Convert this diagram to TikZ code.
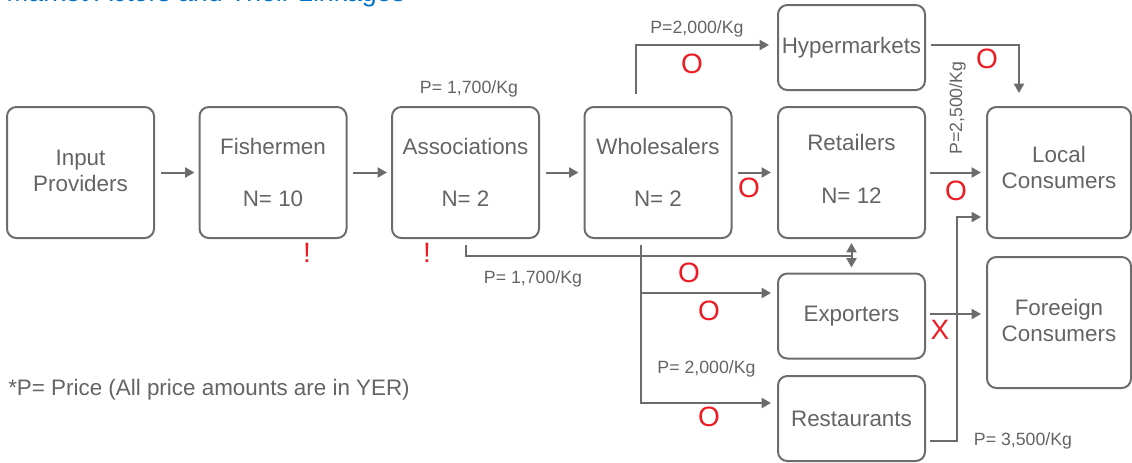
\documentclass[tikz,border=0pt]{standalone}
\usepackage{fontspec}
\setmainfont{Liberation Sans}
\usetikzlibrary{arrows.meta,calc}
\definecolor{lg}{RGB}{108,108,110}
\definecolor{tg}{RGB}{100,100,102}
\definecolor{rd}{RGB}{236,28,36}
\definecolor{bl}{RGB}{0,114,198}
\begin{document}
\begin{tikzpicture}[x=0.75pt,y=-0.75pt,
  box/.style={draw=lg,line width=1.5pt,rounded corners=7pt,minimum width=110.25pt,minimum height=98.25pt,align=center,font=\fontsize{16.8}{19.5}\selectfont,text=tg,inner sep=0pt},
  sbox/.style={box,minimum height=63.75pt},
  wbox/.style={box,minimum width=108pt},
  conn/.style={draw=lg,line width=1.5pt,-{Triangle[length=7pt,width=7.5pt]}},
  plain/.style={draw=lg,line width=1.5pt},
  lab/.style={font=\fontsize{13.3}{15}\selectfont,text=tg,inner sep=0pt},
  redmark/.style={font=\fontsize{21}{24}\selectfont,text=rd,inner sep=0pt},
]
\useasboundingbox (0,0) rectangle (1132,462);
% title (cut off at the top in the reference)
\node[anchor=base west,inner sep=0pt,text=bl,font=\fontsize{20}{24}\selectfont] (title) at (6,1.5) {Market Actors and Their Linkages};
% boxes
\node[box] (inp) at (80.5,172.5) {Input\\Providers\rule[-2pt]{0pt}{0pt}};
\node[box] (fish) at (273,172.5) {Fishermen\\[20pt]N= 10};
\node[box] (assoc) at (465.5,172.5) {Associations\\[20pt]N= 2};
\node[box] (whole) at (658,172.5) {Wholesalers\\[20pt]N= 2};
\node[sbox] (hyper) at (851.5,47.5) {Hypermarkets};
\node[box] (retail) at (851.5,172.5) {Retailers\\[20pt]N= 12\rule[-5.2pt]{0pt}{0pt}};
\node[wbox] (local) at (1059,172.5) {Local\\Consumers\rule[-7.5pt]{0pt}{0pt}};
\node[sbox] (export) at (851.5,316) {Exporters};
\node[wbox] (foreign) at (1059,322.5) {Foreeign\\Consumers\rule[-3.8pt]{0pt}{0pt}};
\node[sbox] (rest) at (851.5,418.5) {Restaurants};
% main chain
\draw[conn] ($(inp.east)+(6,0)$) -- ($(fish.west)+(-4,0)$);
\draw[conn] ($(fish.east)+(5,0)$) -- ($(assoc.west)+(-4,0)$);
\draw[conn] ($(assoc.east)+(6,0)$) -- ($(whole.west)+(-5,0)$);
\draw[conn] ($(whole.east)+(5,0)$) -- ($(retail.west)+(-6,0)$);
\draw[conn] ($(retail.east)+(4,0)$) -- ($(local.west)+(-5,0)$);
% wholesalers to hypermarkets
\draw[conn] ($(whole.north)+(-22,-12)$) |- ($(hyper.west)+(-8,-2.5)$);
% hypermarkets to local consumers
\draw[conn] ($(hyper.east)+(5,-2.5)$) -| ($(local.north)+(-40,-13)$);
% exporters to foreign consumers
\draw[conn] ($(export.east)+(4,-2)$) -- ($(export.east -| foreign.west)+(-5,-2)$);
% restaurants to local consumers
\coordinate (rc) at ($(rest.east)+(31,22.5)$);
\draw[conn] ($(rest.east)+(4,22.5)$) -- (rc) |- ($(local.west)+(-5,44.5)$);
% associations to retailers / exporters
\draw[plain] ($(assoc.south)+(0.5,6)$) |- ($(retail.south)+(0,17)$);
\draw[draw=lg,line width=1.5pt,{Triangle[length=7pt,width=7.5pt]}-{Triangle[length=7pt,width=7.5pt]}] ($(retail.south)+(0,4)$) -- ($(export.north)+(0,-5)$);
% wholesalers to exporters and restaurants
\coordinate (wb) at ($(whole.south)+(-17,6)$);
\draw[conn] (wb) |- ($(rest.west)+(-6,-15.5)$);
\draw[conn] ($(export.west)+(-137,-23)$) -- ($(export.west)+(-6,-23)$);
% price labels
\node[lab,anchor=base] (p1) at (469,93) {P= 1,700/Kg};
\node[lab,anchor=base] (p2) at (697,33) {P=2,000/Kg};
\node[lab,anchor=base] (p3) at (533,283) {P= 1,700/Kg};
\node[lab,anchor=base west,rotate=90] (p4) at (962,155) {P=2,500/Kg};
\node[lab,anchor=base] (p5) at (706.5,373) {P= 2,000/Kg};
\node[lab,anchor=base] (p6) at (1023,445) {P= 3,500/Kg};
% red marks
\node[redmark] (o1) at (692,64) {O};
\node[redmark] (o2) at (987,59) {O};
\node[redmark] (o3) at (749,188) {O};
\node[redmark] (o4) at (956,191) {O};
\node[redmark] (o5) at (689,273) {O};
\node[redmark] (o6) at (709,311) {O};
\node[redmark] (o7) at (709,417) {O};
\node[redmark] (x1) at (940,330) {X};
\node[redmark] (e1) at (307,253) {!};
\node[redmark] (e2) at (427,253) {!};
% footnote
\node[anchor=base west,inner sep=0pt,text=tg,font=\fontsize{16.8}{19.5}\selectfont] (note) at (8,395) {*P= Price (All price amounts are in YER)};
\end{tikzpicture}
\end{document}
